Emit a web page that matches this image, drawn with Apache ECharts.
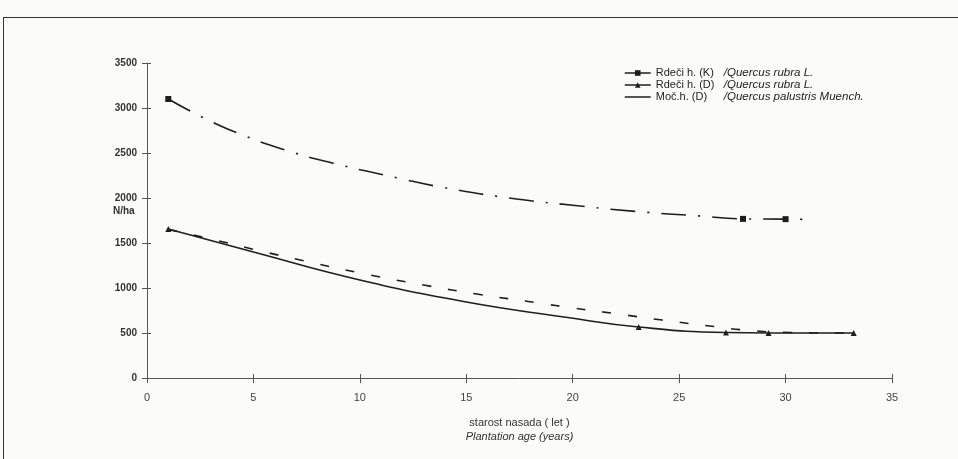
<!DOCTYPE html>
<html>
<head>
<meta charset="utf-8">
<script src="https://cdn.jsdelivr.net/npm/echarts@6/dist/echarts.min.js"></script>
<style>
  html, body { margin: 0; padding: 0; background: #fbfbfa; }
  #frame { position: absolute; left: 3px; top: 17px; width: 960px; height: 450px;
           border-left: 1.5px solid #333; border-top: 1.5px solid #333; }
  #chart { position: absolute; left: 0; top: 0; width: 958px; height: 459px; }
</style>
</head>
<body>
<div id="frame"></div>
<div id="chart"></div>
<script>
// Rdeči h. (K) – measured points (squares) and fitted curve
const kObsAges = [1, 28, 30];
const kObsValues = [3100, 1768, 1765];
const kCurveAges = [2.5, 4.25, 6.5, 8.7, 11.8, 13.8, 17, 20, 23, 26, 31];
const kCurveValues = [2910, 2722, 2533, 2389, 2222, 2122, 2000, 1920, 1850, 1800, 1762];

// Rdeči h. (D) – measured points (triangles) and curve
const dObsAges = [1, 23.1, 27.2, 29.2, 33.2];
const dObsValues = [1656, 567, 505, 500, 500];
const dCurveAges = [5, 10, 15, 19.6];
const dCurveValues = [1400, 1089, 844, 678];

// Moč.h. (D) – curve only
const mCurveAges = [1, 2.8, 5, 7.4, 10, 13, 15.5, 18.4, 20, 22, 24.2, 26.7, 28.1, 30.2, 32.5, 33.2];
const mCurveValues = [1650, 1556, 1430, 1300, 1167, 1033, 933, 833, 778, 715, 644, 570, 533, 505, 500, 505];

const seriesNames = ["Rdeči h. (K)", "Rdeči h. (D)", "Moč.h. (D)"];
const latinNames = ["/Quercus rubra L.", "/Quercus rubra L.", "/Quercus palustris Muench."];

function merge(obsX, obsY, curveX, curveY) {
  const pts = [];
  obsX.forEach((x, i) => pts.push([x, obsY[i]]));
  curveX.forEach((x, i) => pts.push({ value: [x, curveY[i]], symbol: "none" }));
  const xOf = (p) => (Array.isArray(p) ? p[0] : p.value[0]);
  return pts.sort((a, b) => xOf(a) - xOf(b));
}

const ink = "#1e1e1e";
const chart = echarts.init(document.getElementById("chart"));

const axisCommon = {
  type: "value",
  splitLine: { show: false },
  axisLine: { show: true, lineStyle: { color: "#555", width: 1 } },
};

chart.setOption({
  animation: false,
  grid: { left: 147, right: 66, top: 63, bottom: 81 },
  legend: {
    orient: "vertical",
    left: 619,
    top: 62,
    itemWidth: 26,
    itemHeight: 7,
    itemGap: 0,
    data: seriesNames.map((n, i) => ({
      name: n,
      lineStyle: { type: "solid", width: 1.5 },
      itemStyle: i === 2 ? { opacity: 0 } : undefined,
    })),
    formatter: (name) => `{a|${name}}{b|${latinNames[seriesNames.indexOf(name)]}}`,
    textStyle: {
      fontFamily: "Liberation Sans",
      fontSize: 11,
      color: "#222",
      lineHeight: 11.5,
      rich: {
        a: { width: 68, fontSize: 11, lineHeight: 11.5, color: "#222", fontFamily: "Liberation Sans" },
        b: { fontSize: 11.5, lineHeight: 11.5, fontStyle: "italic", color: "#222", fontFamily: "Liberation Sans" },
      },
    },
  },
  xAxis: [
    {
      ...axisCommon,
      min: 0,
      max: 35,
      interval: 5,
      axisTick: { show: true, length: 5, lineStyle: { color: "#555" } },
      axisLabel: { margin: 14, fontFamily: "Liberation Sans", fontSize: 11, color: "#444" },
      name: "{a|starost nasada ( let )}\n{b|Plantation age (years)}",
      nameLocation: "middle",
      nameGap: 38,
      nameTextStyle: {
        rich: {
          a: { fontFamily: "Liberation Sans", fontSize: 11, color: "#333", lineHeight: 14 },
          b: { fontFamily: "Liberation Sans", fontSize: 11, fontStyle: "italic", color: "#333", lineHeight: 14 },
        },
      },
    },
    {
      ...axisCommon,
      min: 0,
      max: 35,
      interval: 5,
      position: "bottom",
      axisLine: { show: false },
      axisTick: { show: true, inside: true, length: 4, lineStyle: { color: "#555" } },
      axisLabel: { show: false },
    },
  ],
  yAxis: [
    {
      ...axisCommon,
      min: 0,
      max: 3500,
      interval: 500,
      axisTick: { show: true, length: 5, lineStyle: { color: "#555" } },
      axisLabel: {
        margin: 10,
        formatter: (v) => String(v),
        fontFamily: "Liberation Sans",
        fontSize: 10,
        fontWeight: "bold",
        color: "#333",
      },
    },
    {
      ...axisCommon,
      min: 0,
      max: 3500,
      interval: 500,
      position: "left",
      axisLine: { show: false },
      axisTick: { show: true, inside: true, length: 4, lineStyle: { color: "#555" } },
      axisLabel: { show: false },
    },
  ],
  graphic: [
    {
      type: "text",
      left: 113,
      top: 206,
      style: { text: "N/ha", font: "bold 10px 'Liberation Sans'", fill: "#333" },
    },
  ],
  series: [
    {
      name: seriesNames[0],
      type: "line",
      smooth: 0.5,
      symbol: "rect",
      symbolSize: 6,
      itemStyle: { color: ink },
      lineStyle: { color: ink, width: 1.6, type: [25, 12, 2, 12] },
      data: merge(kObsAges, kObsValues, kCurveAges, kCurveValues),
    },
    {
      name: seriesNames[1],
      type: "line",
      smooth: 0.5,
      symbol: "triangle",
      symbolSize: 6,
      itemStyle: { color: ink },
      lineStyle: { color: ink, width: 1.6 },
      data: merge(dObsAges, dObsValues, dCurveAges, dCurveValues),
    },
    {
      name: seriesNames[2],
      type: "line",
      smooth: 0.5,
      symbol: "none",
      itemStyle: { color: ink },
      lineStyle: { color: ink, width: 1.6, type: [9, 17] },
      data: mCurveAges.map((x, i) => [x, mCurveValues[i]]),
    },
  ],
});
</script>
</body>
</html>
